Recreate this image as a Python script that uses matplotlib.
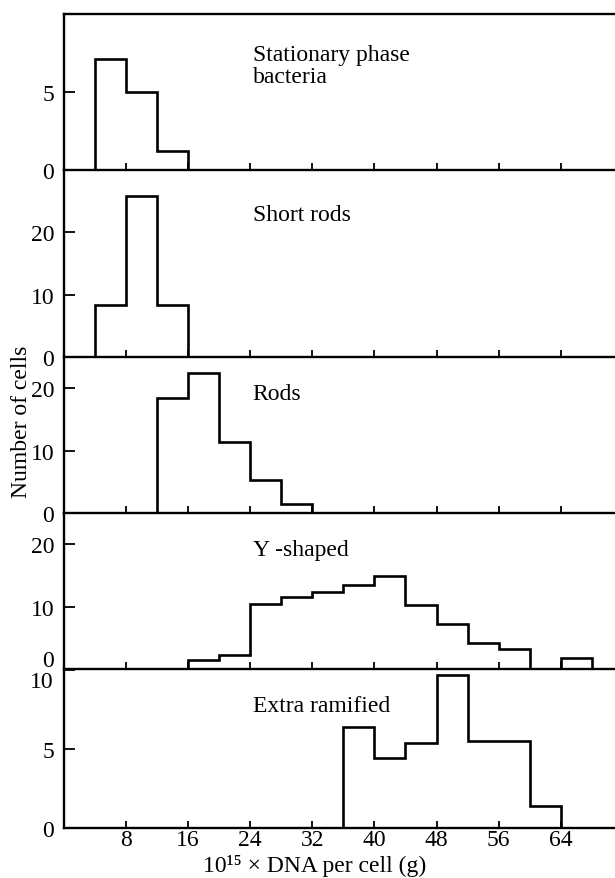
import matplotlib
matplotlib.use("Agg")
import matplotlib.pyplot as plt

plt.rcParams['font.family'] = ['Liberation Serif', 'DejaVu Serif']

# ---- data (counts per 4-unit DNA bin) ----
stationary_edges = [4, 8, 12, 16]
stationary_counts = [7.1, 5.0, 1.2]

short_rods_edges = [4, 8, 12, 16]
short_rods_counts = [8.3, 25.9, 8.3]

rods_edges = [12, 16, 20, 24, 28, 32]
rods_counts = [18.4, 22.5, 11.4, 5.3, 1.5]

y_shaped_edges = [16, 20, 24, 28, 32, 36, 40, 44, 48, 52, 56, 60, 64, 68]
y_shaped_counts = [1.4, 2.3, 10.4, 11.5, 12.4, 13.5, 14.9, 10.2, 7.2, 4.1, 3.2, 0.0, 1.8]

extra_edges = [36, 40, 44, 48, 52, 56, 60, 64]
extra_counts = [6.4, 4.4, 5.4, 9.7, 5.5, 5.5, 1.4]

panel_names = ["Stationary phase\nbacteria", "Short rods", "Rods", "Y -shaped", "Extra ramified"]
panel_ylims = [10, 30, 25, 25, 10.05]
panel_yticks = [[0, 5], [0, 10, 20], [0, 10, 20], [0, 10, 20], [0, 5, 10]]
panel_yticklabels = [["0", "5"], ["0", "10", "20"], ["0", "10", "20"], ["", "10", "20"], ["0", "5", ""]]
x_ticks = [8, 16, 24, 32, 40, 48, 56, 64]
x_ticklabels = ["8", "16", "24", "32", "40", "48", "56", "64"]

series = [
    (stationary_edges, stationary_counts),
    (short_rods_edges, short_rods_counts),
    (rods_edges, rods_counts),
    (y_shaped_edges, y_shaped_counts),
    (extra_edges, extra_counts),
]

W, H = 615, 879
fig = plt.figure(figsize=(W / 100, H / 100), dpi=100)

bounds = [15, 171, 358, 514, 670, 829]
left_px = 64
label_top_px = [45, 205, 384, 540, 696]  # top of first text line
label_x = 24.3

axes = []
for i in range(5):
    top, bot = bounds[i], bounds[i + 1]
    ax = fig.add_axes([left_px / W, (H - bot) / H, (W - left_px) / W, (bot - top) / H])
    axes.append(ax)
    edges, counts = series[i]
    ax.stairs(counts, edges, baseline=0, fill=False, color='black', lw=1.9)
    ax.set_xlim(0, 71)
    ax.set_ylim(0, panel_ylims[i])
    ax.set_xticks(x_ticks)
    ax.set_yticks(panel_yticks[i])
    ax.set_yticklabels(panel_yticklabels[i])
    ax.tick_params(axis='x', direction='in', length=5, width=1.3, labelsize=17, pad=1,
                   labelbottom=(i == 4))
    ax.tick_params(axis='y', direction='in', length=8, width=1.3, labelsize=17, pad=7)
    if i == 4:
        ax.set_xticklabels(x_ticklabels)
    for s in ['left', 'bottom', 'top']:
        ax.spines[s].set_linewidth(1.7)
    ax.spines['right'].set_visible(False)
    if i != 0:
        ax.spines['top'].set_visible(False)
    ax.patch.set_alpha(0)

for i, name in enumerate(panel_names):
    x_fig = (left_px + label_x * (W - left_px) / 71) / W
    y_fig = 1 - label_top_px[i] / H
    fig.text(x_fig, y_fig, name, fontsize=17, ha='left', va='top', linespacing=1.05)

# boundary tick labels placed off the shared line
fig.text(54 / W, 1 - 662 / H, "0", fontsize=17, ha='right', va='center')
fig.text(54 / W, 1 - 682 / H, "10", fontsize=17, ha='right', va='center')

fig.text(22 / W, 1 - 422 / H, "Number of cells", fontsize=17, rotation=90,
         ha='center', va='center')
fig.text(315 / W, 1 - 866 / H, "10\u00b9\u2075 \u00d7 DNA per cell (g)", fontsize=17,
         ha='center', va='center')

fig.savefig("out.png", dpi=100, facecolor='white')
